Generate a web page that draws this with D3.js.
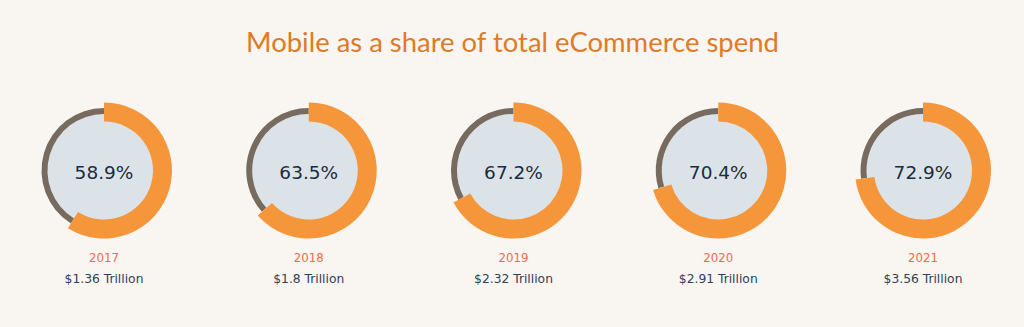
<!DOCTYPE html>
<html>
<head>
<meta charset="utf-8">
<script src="https://cdn.jsdelivr.net/npm/d3@7"></script>
<style>
  html, body { margin: 0; padding: 0; background: #f9f6f1; }
  svg { display: block; }
</style>
</head>
<body>
<svg id="chart" width="1024" height="327"></svg>
<script>
const years = ["2017", "2018", "2019", "2020", "2021"];
const mobileShare = [58.9, 63.5, 67.2, 70.4, 72.9];
const totalSpend = ["$1.36 Trillion", "$1.8 Trillion", "$2.32 Trillion", "$2.91 Trillion", "$3.56 Trillion"];

const width = 1024, height = 327;
const svg = d3.select("#chart");

svg.append("rect").attr("width", width).attr("height", height).attr("fill", "#f9f6f1");

// Title, sized to its measured width
const title = svg.append("text")
  .attr("x", width / 2 + 0.5)
  .attr("y", 51.5)
  .attr("text-anchor", "middle")
  .attr("fill", "#e07a26")
  .style("font-family", "Lato, 'Open Sans', sans-serif")
  .style("font-size", "26px")
  .text("Mobile as a share of total eCommerce spend");
const tw = title.node().getComputedTextLength();
title.style("font-size", (26 * 533 / tw).toFixed(2) + "px");

const x = d3.scalePoint().domain(years).range([104, 923]);
const angle = d3.scaleLinear().domain([0, 100]).range([0, 2 * Math.PI]);
const cy = 170.5;

const ringArc = d3.arc().innerRadius(56.5).outerRadius(62.5);
const shareArc = d3.arc().innerRadius(49).outerRadius(68);

const rows = years.map((y, i) => ({ year: y, share: mobileShare[i], spend: totalSpend[i] }));

const g = svg.selectAll("g.donut").data(rows).join("g")
  .attr("class", "donut")
  .attr("transform", d => `translate(${x(d.year)},${cy})`);

g.append("circle").attr("r", 56.5).attr("fill", "#dbe3e8");

g.append("path")
  .attr("fill", "#776b5f")
  .attr("d", d => ringArc({ startAngle: angle(d.share), endAngle: angle(100) }));

g.append("path")
  .attr("fill", "#f6963a")
  .attr("d", d => shareArc({ startAngle: 0, endAngle: angle(d.share) }));

g.append("text")
  .attr("y", 8.7)
  .attr("text-anchor", "middle")
  .attr("fill", "#1c2b3d")
  .style("font-family", "'DejaVu Sans', sans-serif")
  .style("font-size", "18.5px")
  .text(d => d.share.toFixed(1) + "%");

g.append("text")
  .attr("y", 262 - cy)
  .attr("text-anchor", "middle")
  .attr("fill", "#f0694b")
  .style("font-family", "'DejaVu Sans', sans-serif")
  .style("font-size", "11.8px")
  .text(d => d.year);

g.append("text")
  .attr("y", 283 - cy)
  .attr("text-anchor", "middle")
  .attr("fill", "#2f3f5c")
  .style("font-family", "'DejaVu Sans', sans-serif")
  .style("font-size", "12.3px")
  .text(d => d.spend);
</script>
</body>
</html>
